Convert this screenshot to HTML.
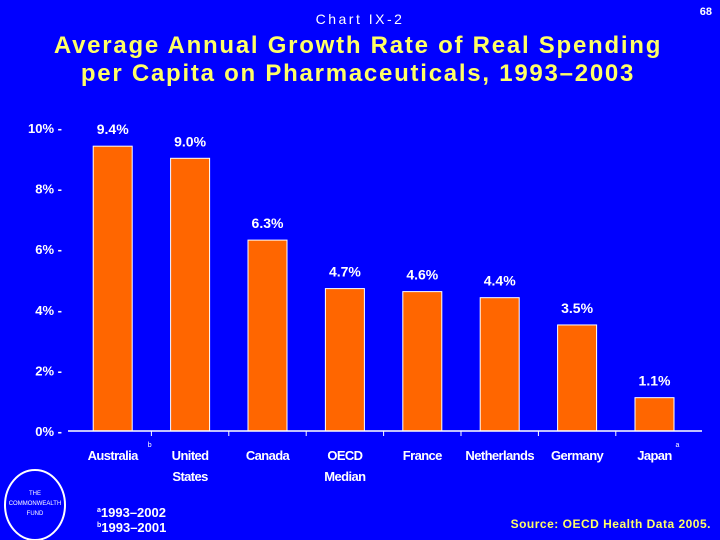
<!DOCTYPE html>
<html><head><meta charset="utf-8"><style>
body{margin:0;background:#0000FF;}
#c{position:relative;width:720px;height:540px;background:#0000FF;overflow:hidden;font-family:"Liberation Sans",sans-serif;}
</style></head><body>
<div id="c">
<svg width="720" height="540" xmlns="http://www.w3.org/2000/svg">
<text x="360" y="24" fill="#fff" font-size="14" text-anchor="middle" letter-spacing="2.5">Chart IX-2</text>
<text x="712" y="15" fill="#fff" font-size="11" font-weight="bold" text-anchor="end">68</text>
<text x="358" y="53" fill="#FFFF66" font-size="24" font-weight="bold" text-anchor="middle" letter-spacing="1.75">Average Annual Growth Rate of Real Spending</text>
<text x="358" y="81" fill="#FFFF66" font-size="24" font-weight="bold" text-anchor="middle" letter-spacing="1.75">per Capita on Pharmaceuticals, 1993–2003</text>
<g id="plot"></g>
<ellipse cx="35" cy="505" rx="30" ry="35" fill="none" stroke="#fff" stroke-width="2"/>
<text x="35" y="495" fill="#fff" font-size="6" text-anchor="middle">THE</text>
<text x="35" y="505" fill="#fff" font-size="6" text-anchor="middle">COMMONWEALTH</text>
<text x="35" y="515" fill="#fff" font-size="6" text-anchor="middle">FUND</text>
<text x="97" y="517" fill="#fff" font-size="13" font-weight="bold"><tspan font-size="7" dy="-5">a</tspan><tspan dy="5">1993–2002</tspan></text>
<text x="97" y="532" fill="#fff" font-size="13" font-weight="bold"><tspan font-size="7" dy="-5">b</tspan><tspan dy="5">1993–2001</tspan></text>
<text x="711" y="528" fill="#FFFF66" font-size="12" font-weight="bold" text-anchor="end" letter-spacing="0.5">Source: OECD Health Data 2005.</text>
</svg>
</div>
<script>
const categories=[["Australia"],["United","States"],["Canada"],["OECD","Median"],["France"],["Netherlands"],["Germany"],["Japan"]];
const notes=["b","","","","","","","a"];
const values=[9.4,9.0,6.3,4.7,4.6,4.4,3.5,1.1];
const valueLabels=["9.4%","9.0%","6.3%","4.7%","4.6%","4.4%","3.5%","1.1%"];
const yTicks=[0,2,4,6,8,10];
const NS="http://www.w3.org/2000/svg";
const g=document.getElementById('plot');
const x0=74,step=77.4,bw=39,yBase=431,yTop=128;
const y=v=>yBase-(v/10)*(yBase-yTop);
const cx=i=>x0+step*i+step/2;
function mk(t,a){const e=document.createElementNS(NS,t);for(const k in a)e.setAttribute(k,a[k]);g.appendChild(e);return e;}
yTicks.forEach(v=>{
 const t=mk('text',{x:62,y:y(v)+5,fill:'#fff','font-size':13,'font-weight':'bold','text-anchor':'end'});
 t.textContent=v+'% -';
 
 
});
values.forEach((v,i)=>{
 const r=mk('rect',{x:cx(i)-bw/2,y:y(v),width:bw,height:yBase-y(v),fill:'#FF6600',stroke:'#fff','stroke-width':1});
 
 
 const l=mk('text',{x:cx(i),y:y(v)-12,fill:'#fff','font-size':14,'font-weight':'bold','text-anchor':'middle'});
 l.textContent=valueLabels[i];
 
 
 categories[i].forEach((s,j)=>{
  const c=mk('text',{x:cx(i),y:460+j*21,fill:'#fff','font-size':13,'font-weight':'bold','text-anchor':'middle','letter-spacing':'-0.6'});
  c.textContent=s;
  
  
 });
 if(notes[i]){const n=mk('text',{x:cx(i)+(notes[i]=='a'?21:35),y:447,fill:'#fff','font-size':7});n.textContent=notes[i];
  
  }
});
const ax=mk('line',{x1:68,y1:yBase,x2:702,y2:yBase,stroke:'#fff','stroke-width':1.5});


for(let i=1;i<categories.length;i++){const t=mk('line',{x1:x0+step*i,y1:yBase,x2:x0+step*i,y2:yBase+5,stroke:'#fff'});
 
 }
</script>
</body></html>
